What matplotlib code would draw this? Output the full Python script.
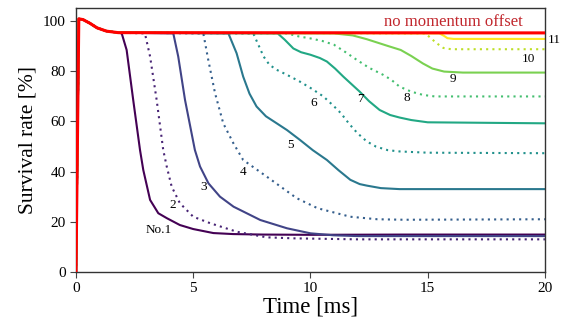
"""
Survival rate vs time for momentum-offset cases No.1 - No.11.
Values read off the reference figure.
"""

import matplotlib

matplotlib.use("Agg")
import matplotlib.pyplot as plt

plt.rcParams["font.family"] = ["Liberation Serif", "DejaVu Serif"]

# shared injection segment (all cases)
START_T = [0.0, 0.12, 0.3, 0.6, 0.9, 1.3, 1.8]
START_V = [0.0, 100.8, 100.5, 99.0, 97.2, 95.9, 95.3]

# per-case decay segments (time [ms], survival [%])
T1 = [1.95, 2.16, 2.44, 2.73, 2.87, 3.16, 3.51, 3.88, 4.43, 5.0, 5.86, 6.7, 8.0, 10.0, 14.0, 20.0]
V1 = [95.0, 88.4, 68.5, 48.6, 40.6, 28.7, 23.4, 21.4, 18.7, 17.1, 15.5, 15.1, 14.9, 14.8, 14.9, 14.9]

T2 = [2.94, 3.16, 3.44, 3.72, 3.87, 4.08, 4.43, 5.0, 5.73, 6.87, 8.13, 9.27, 12.0, 20.0]
V2 = [95.0, 85.8, 68.5, 48.6, 42.0, 34.0, 27.4, 22.0, 19.4, 16.0, 13.8, 13.4, 13.0, 13.0]

T3 = [4.15, 4.36, 4.65, 5.07, 5.29, 5.65, 6.14, 6.72, 7.86, 9.0, 10.0, 11.0, 12.0, 20.0]
V3 = [95.0, 85.8, 68.5, 48.6, 42.0, 35.3, 30.0, 26.0, 20.7, 17.4, 15.4, 14.6, 14.3, 14.3]

T4 = [5.43, 5.64, 5.93, 6.28, 6.71, 7.13, 8.13, 9.41, 10.3, 11.7, 12.85, 14.0, 20.0]
V4 = [95.0, 84.5, 71.2, 59.2, 51.3, 44.6, 38.0, 29.4, 25.4, 22.0, 21.0, 20.8, 21.0]

T5 = [6.5, 6.85, 7.13, 7.4, 7.7, 8.1, 8.56, 9.0, 9.55, 10.1, 10.7, 11.2, 11.7, 12.1, 12.4, 13.0, 13.8, 20.0]
V5 = [95.0, 87.1, 77.8, 71.0, 65.9, 62.0, 59.2, 56.5, 52.6, 48.5, 44.6, 40.5, 36.7, 35.0, 34.4, 33.4, 33.0, 33.0]

T6 = [7.56, 7.8, 8.0, 8.25, 8.56, 9.0, 9.55, 10.05, 10.55, 11.0, 11.3, 11.65, 12.0, 12.4, 12.8, 13.3, 13.8, 15.0, 20.0]
V6 = [95.0, 90.0, 85.8, 82.5, 80.5, 78.5, 75.8, 73.0, 69.9, 66.0, 63.2, 59.0, 55.3, 52.0, 49.9, 48.5, 48.0, 47.5, 47.3]

T7 = [8.6, 8.9, 9.27, 9.6, 10.0, 10.4, 10.7, 11.05, 11.4, 11.75, 12.1, 12.5, 12.95, 13.4, 13.8, 14.3, 15.0, 20.0]
V7 = [95.0, 92.5, 89.0, 87.5, 86.5, 85.2, 83.8, 81.0, 77.8, 74.8, 71.8, 68.0, 64.5, 62.5, 61.5, 60.5, 59.6, 59.2]

T8 = [9.0, 9.5, 10.0, 10.5, 11.0, 11.5, 11.97, 12.5, 13.1, 13.45, 13.8, 14.3, 14.8, 15.3, 20.0]
V8 = [95.0, 93.8, 93.0, 92.0, 90.5, 87.5, 84.5, 81.3, 78.5, 76.5, 73.8, 71.8, 70.5, 69.9, 69.9]

T9 = [11.0, 11.8, 12.4, 12.8, 13.3, 13.85, 14.3, 14.8, 15.2, 15.7, 16.5, 20.0]
V9 = [95.0, 94.2, 92.7, 91.5, 90.0, 88.4, 86.0, 83.0, 81.0, 79.8, 79.4, 79.4]

T10 = [14.9, 15.38, 15.67, 16.0, 20.0]
V10 = [95.0, 91.1, 89.2, 88.7, 88.7]

T11 = [15.5, 15.7, 15.84, 16.1, 20.0]
V11 = [95.0, 94.0, 93.1, 92.8, 92.8]

T_REF = [20.0]
V_REF = [95.2]

CASES = [(T1, V1), (T2, V2), (T3, V3), (T4, V4), (T5, V5), (T6, V6),
         (T7, V7), (T8, V8), (T9, V9), (T10, V10), (T11, V11)]

LABELS = ["No.1", "2", "3", "4", "5", "6", "7", "8", "9", "10", "11"]
LABEL_X = [3.53, 4.12, 5.43, 7.11, 9.13, 10.12, 12.12, 14.1, 16.09, 19.29, 20.1]
LABEL_Y = [16.7, 26.7, 33.9, 40.0, 50.6, 67.2, 68.8, 69.2, 76.8, 84.7, 92.4]


def main():
    fig = plt.figure(figsize=(5.65, 3.25), dpi=100)
    ax = fig.add_axes([0.1345, 0.1631, 0.83, 0.8114])

    cmap = plt.get_cmap("viridis")
    for i, (t, v) in enumerate(CASES):
        color = cmap(i / 10)
        ls = "-" if i % 2 == 0 else (0, (1, 2))
        ax.plot(START_T + t, START_V + v, color=color, lw=1.5, linestyle=ls)

    ax.plot(START_T + T_REF, START_V + V_REF, color="#ff0000", lw=2.2, zorder=5)

    for i, (lab, x, y) in enumerate(zip(LABELS, LABEL_X, LABEL_Y)):
        ha = "left" if i == 10 else "center"
        ax.text(x, y, lab, fontsize=9.5, ha=ha, va="center", clip_on=False)

    ax.text(16.08, 99.7, "no momentum offset", fontsize=12, color="#c1272d",
            ha="center", va="center")

    ax.set_xlim(0, 20)
    ax.set_ylim(0, 105)
    ax.set_xticks([0, 5, 10, 15, 20])
    ax.set_yticks([0, 20, 40, 60, 80, 100])
    ax.tick_params(labelsize=11, color="#444444", length=4)
    for sp in ax.spines.values():
        sp.set_color("#333333")
        sp.set_linewidth(1.0)

    ax.set_xlabel("Time [ms]", fontsize=16.5, labelpad=1)
    ax.set_ylabel("Survival rate [%]", fontsize=15.5, labelpad=4)

    fig.savefig("out.png", dpi=100)
    plt.close(fig)


if __name__ == "__main__":
    main()
